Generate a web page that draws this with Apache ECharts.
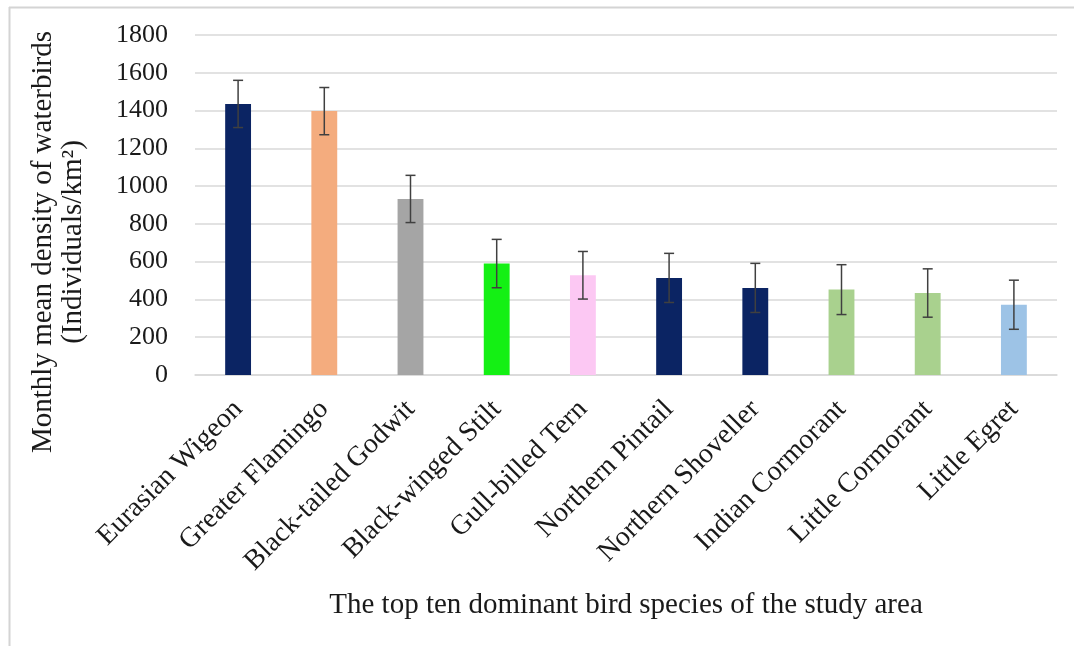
<!DOCTYPE html>
<html>
<head>
<meta charset="utf-8">
<script src="https://cdn.jsdelivr.net/npm/echarts@6/dist/echarts.min.js"></script>
<style>
html,body{margin:0;padding:0;background:#fff;}
#chart{width:1074px;height:646px;}
</style>
</head>
<body>
<div id="chart"></div>
<script>
var categories = ['Eurasian Wigeon','Greater Flamingo','Black-tailed Godwit','Black-winged Stilt','Gull-billed Tern','Northern Pintail','Northern Shoveller','Indian Cormorant','Little Cormorant','Little Egret'];
var values = [1435, 1397, 932, 590, 528, 514, 461, 452, 434, 372];
var errors = [125, 125, 125, 128, 126, 130, 130, 132, 128, 130];
var barColors = ['#0b2463','#f4ac7e','#a5a5a5','#14f014','#fcc8f3','#0b2463','#0b2463','#a9d18e','#a9d18e','#9dc3e6'];
var yTicks = [0, 200, 400, 600, 800, 1000, 1200, 1400, 1600, 1800];
var yTitle1 = 'Monthly mean density of waterbirds';
var yTitle2 = '(Individuals/km²)';
var xTitle = 'The top ten dominant bird species of the study area';

var FONT = '"Liberation Serif", "Times New Roman", serif';
var chart = echarts.init(document.getElementById('chart'));

var errData = values.map(function (v, i) { return [i, v - errors[i], v + errors[i]]; });

chart.setOption({
  animation: false,
  backgroundColor: '#ffffff',
  grid: { left: 195, right: 17, top: 35, bottom: 271, containLabel: false },
  xAxis: {
    type: 'category',
    data: categories,
    axisLine: { show: true, lineStyle: { color: '#d9d9d9', width: 1.5 } },
    axisTick: { show: false },
    axisLabel: {
      interval: 0, rotate: 45, margin: 30,
      fontFamily: FONT, fontSize: 28, color: '#1a1a1a'
    }
  },
  yAxis: {
    type: 'value',
    min: yTicks[0], max: yTicks[yTicks.length - 1], interval: 200,
    axisLine: { show: false },
    axisTick: { show: false },
    splitLine: { lineStyle: { color: '#d9d9d9', width: 1.5 } },
    axisLabel: {
      margin: 27, fontFamily: FONT, fontSize: 26, color: '#1a1a1a',
      formatter: function (v) { return String(v); }
    }
  },
  series: [
    {
      type: 'bar',
      data: values.map(function (v, i) { return { value: v, itemStyle: { color: barColors[i] } }; }),
      barWidth: '30%'
    },
    {
      type: 'custom',
      data: errData,
      z: 10,
      renderItem: function (params, api) {
        var x = api.value(0);
        var lo = api.coord([x, api.value(1)]);
        var hi = api.coord([x, api.value(2)]);
        var cap = 5;
        var st = { stroke: '#404040', lineWidth: 1.5 };
        return {
          type: 'group',
          children: [
            { type: 'line', shape: { x1: lo[0], y1: lo[1], x2: hi[0], y2: hi[1] }, style: st },
            { type: 'line', shape: { x1: hi[0] - cap, y1: hi[1], x2: hi[0] + cap, y2: hi[1] }, style: st },
            { type: 'line', shape: { x1: lo[0] - cap, y1: lo[1], x2: lo[0] + cap, y2: lo[1] }, style: st }
          ]
        };
      }
    }
  ],
  graphic: [
    { type: 'line', shape: { x1: 9, y1: 7.5, x2: 1074, y2: 7.5 }, style: { stroke: '#d4d4d4', lineWidth: 2 } },
    { type: 'line', shape: { x1: 9.5, y1: 7, x2: 9.5, y2: 646 }, style: { stroke: '#d4d4d4', lineWidth: 2 } },
    { type: 'text', x: 43, y: 242, rotation: Math.PI / 2,
      style: { text: yTitle1, font: '29px ' + FONT, fill: '#1a1a1a', align: 'center', verticalAlign: 'middle' } },
    { type: 'text', x: 73, y: 242, rotation: Math.PI / 2,
      style: { text: yTitle2, font: '29px ' + FONT, fill: '#1a1a1a', align: 'center', verticalAlign: 'middle' } },
    { type: 'text', x: 626, y: 605,
      style: { text: xTitle, font: '29px ' + FONT, fill: '#1a1a1a', align: 'center', verticalAlign: 'middle' } }
  ]
});
</script>
</body>
</html>
